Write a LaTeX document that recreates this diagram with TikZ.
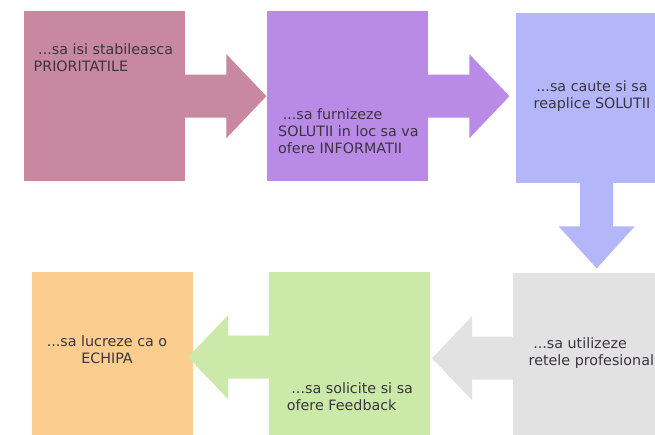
\documentclass[tikz,border=0pt]{standalone}
\usepackage{fontspec}
\setmainfont{DejaVu Sans}
\usetikzlibrary{calc}
\definecolor{rose}{HTML}{C8889F}
\definecolor{lilac}{HTML}{B98AE6}
\definecolor{periw}{HTML}{B4B6FA}
\definecolor{mist}{HTML}{E2E2E2}
\definecolor{mint}{HTML}{CBEAA9}
\definecolor{peach}{HTML}{FBCD8F}
\definecolor{ink}{HTML}{3B3540}

\begin{document}
\begin{tikzpicture}[x=1pt,y=-1pt,
    box/.style={rectangle,inner sep=0pt,minimum width=161pt,minimum height=170pt,anchor=north west},
    txt/.style={inner sep=0pt,text=ink,font=\fontsize{14.3}{16.7}\selectfont}]
    \useasboundingbox (0,0) rectangle (655,435);
    \clip (0,0) rectangle (655,435);
    \fill[white] (0,0) rectangle (655,435);
    % top row
    \node[box,fill=rose] (prio) at (24,11) {};
    \node[box,fill=lilac] (furn) at (267,11) {};
    \node[box,fill=periw] (caut) at (516,13) {};
    % bottom row
    \node[box,fill=mist] (util) at (513,273) {};
    \node[box,fill=mint] (feed) at (269,272) {};
    \node[box,fill=peach] (echipa) at (32,272) {};
    % block arrows
    \foreach \a/\e/\c/\s in {prio/east/rose/1,furn/east/lilac/1,util/west/mist/-1,feed/west/mint/-1}
    {
        \fill[\c] ($(\a.\e)+(-2*\s,-21.5)$) -- ($(\a.\e)+(41*\s,-21.5)$) -- ++(0,-20.5)
          -- ($(\a.\e)+(81*\s,0)$) -- ($(\a.\e)+(41*\s,42)$) -- ++(0,-20.5)
          -- ($(\a.\e)+(-2*\s,21.5)$) -- cycle;
    }
    \fill[periw] ($(caut.south)+(-16.5,-2)$) -- ($(caut.south)+(-16.5,43)$) -- ++(-21.5,0)
      -- ($(caut.south)+(0,85)$) -- ($(caut.south)+(38,43)$) -- ++(-21.5,0)
      -- ($(caut.south)+(16.5,-2)$) -- cycle;
    % texts (base = last line)
    \node[txt,anchor=base west,align=left] (tprio) at (33.5,71.3)
      {\ ...sa isi stabileasca\\PRIORITATILE};
    \node[txt,anchor=base west,align=left] (tfurn) at (278,153.3)
      {\ ...sa furnizeze\\SOLUTII in loc sa va\\ofere INFORMATII};
    \node[txt,anchor=base,align=center] (tcaut) at (592,108.3)
      {...sa caute si sa\\reaplice SOLUTII};
    \node[txt,anchor=base west,align=left] (tutil) at (528.5,365)
      {\ ...sa utilizeze\\retele profesional};
    \node[txt,anchor=base west,align=left] (tfeed) at (286.7,410)
      {\ ...sa solicite si sa\\ofere Feedback};
    \node[txt,anchor=base,align=center] (techipa) at (107,363.3)
      {...sa lucreze ca o\\ECHIPA};
\end{tikzpicture}
\end{document}
